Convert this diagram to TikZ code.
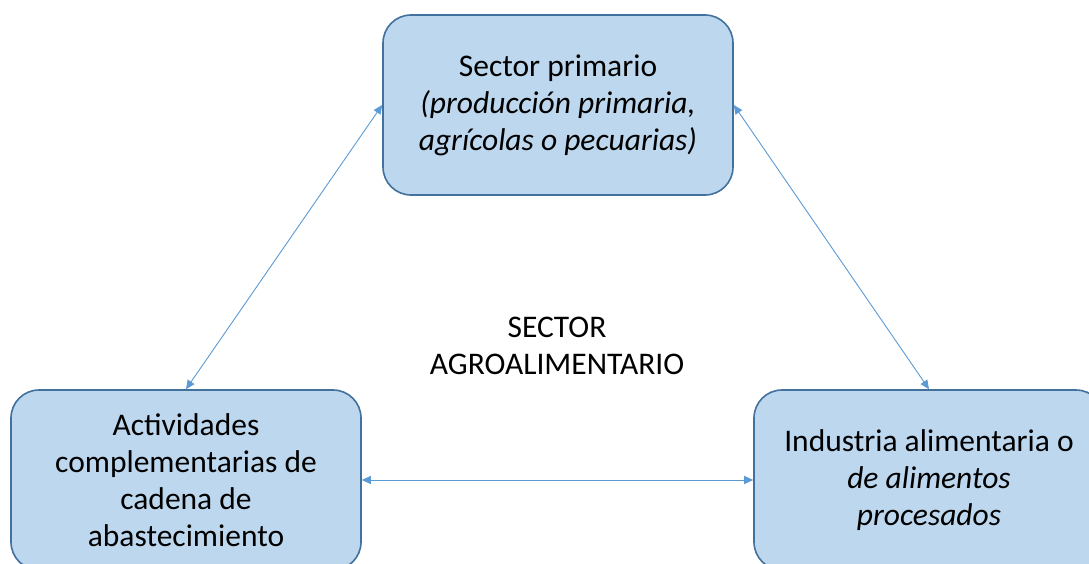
\documentclass[tikz,border=0pt]{standalone}
\usepackage{fontspec}
\setmainfont{Carlito}
\usetikzlibrary{arrows.meta}
\definecolor{boxfill}{HTML}{BDD7EE}
\definecolor{boxdraw}{HTML}{41719C}
\definecolor{arr}{HTML}{5B9BD5}
\begin{document}
\begin{tikzpicture}[x=1pt,y=-1pt,
  box/.style={draw=boxdraw, line width=1.6pt, fill=boxfill, rounded corners=28pt,
    minimum width=350pt, minimum height=180pt, align=center, inner sep=0pt,
    font=\fontsize{31.5}{37}\selectfont},
  link/.style={draw=arr, line width=0.9pt, {Triangle[length=9pt,width=8pt]}-{Triangle[length=9pt,width=8pt]}}]
\clip (0,0) rectangle (1089,564);
\fill[white] (0,0) rectangle (1089,564);
\node[box] (top) at (558,105) {Sector primario\\\textit{(producción primaria,}\\\textit{agrícolas o pecuarias)}};
\node[box] (left) at (186,480) {Actividades\\complementarias de\\cadena de\\abastecimiento};
\node[box] (right) at (929,480) {Industria alimentaria o\\\textit{de alimentos}\\\textit{procesados}};
\node[align=center, font=\fontsize{31.5}{37}\selectfont] (center) at (557,346) {SECTOR\\AGROALIMENTARIO};
\draw[link] (top.west) -- (left.north);
\draw[link] (top.east) -- (right.north);
\draw[link] (left.east) -- (right.west);
\end{tikzpicture}
\end{document}
